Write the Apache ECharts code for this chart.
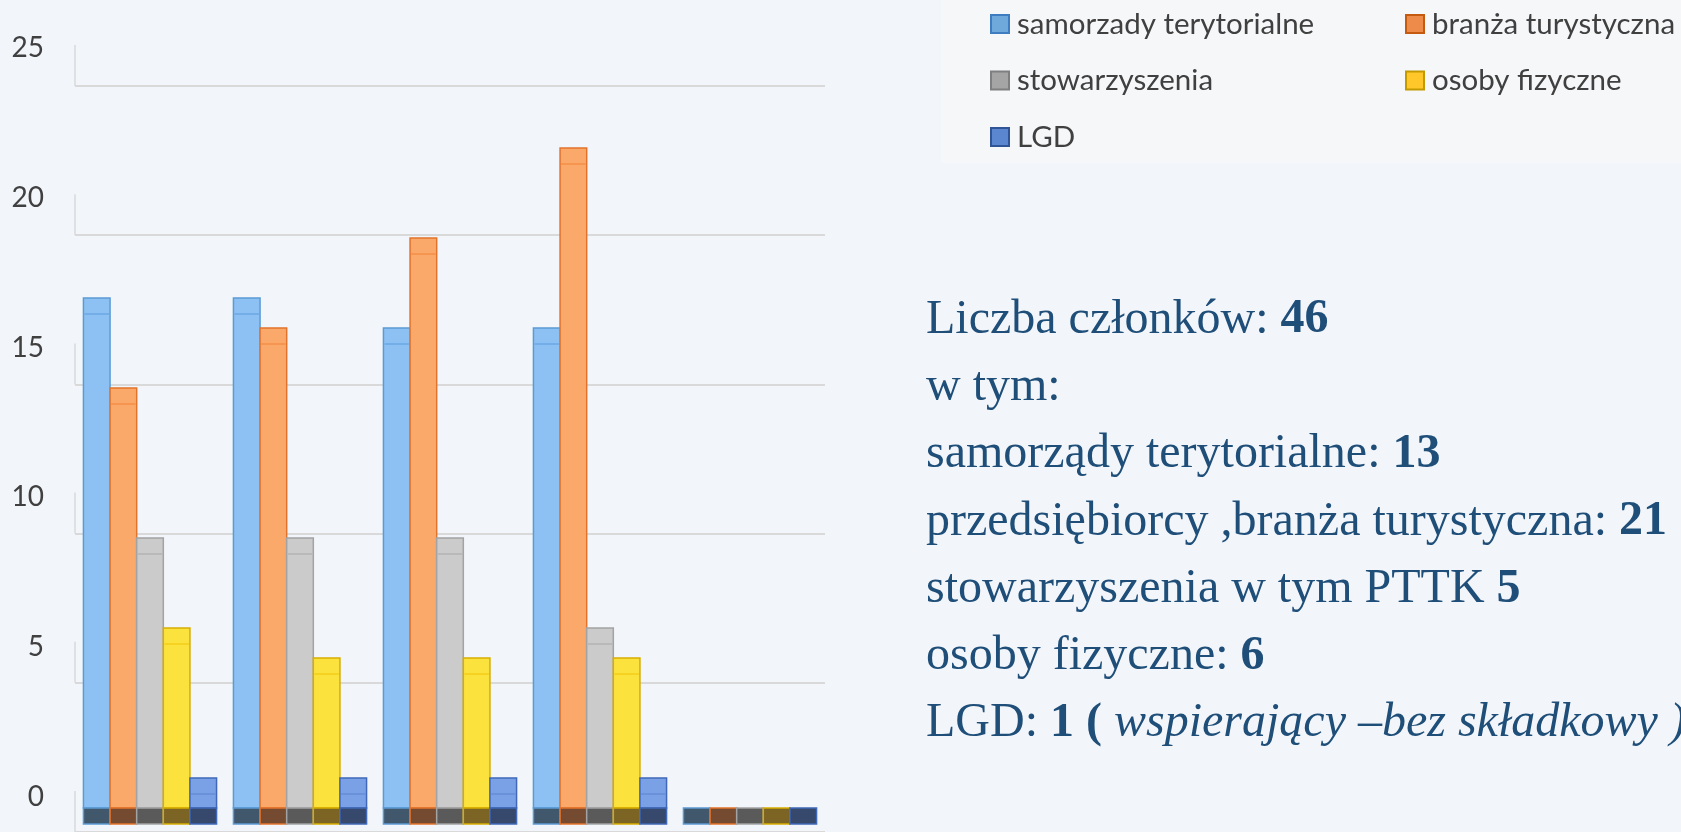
<!DOCTYPE html>
<html>
<head>
<meta charset="utf-8">
<script src="https://cdn.jsdelivr.net/npm/echarts@6/dist/echarts.min.js"></script>
<style>
html,body{margin:0;padding:0;background:#f2f6fa;}
#c{width:1681px;height:832px;}
</style>
</head>
<body>
<div id="c"></div>
<script>
// ---- data ----
var categories = ['1', '2', '3', '4', '5'];
var seriesNames = ['samorzady terytorialne', 'branża turystyczna', 'stowarzyszenia', 'osoby fizyczne', 'LGD'];
var samorzady = [17, 17, 16, 16, 0];
var branza = [14, 16, 19, 22, 0];
var stowarzyszenia = [9, 9, 9, 6, 0];
var osoby = [6, 5, 5, 5, 0];
var lgd = [1, 1, 1, 1, 0];
var yTicks = [0, 5, 10, 15, 20, 25];

var textLines = [
  [['n', 'Liczba członków: '], ['b', '46']],
  [['n', 'w tym:']],
  [['n', 'samorządy terytorialne: '], ['b', '13']],
  [['n', 'przedsiębiorcy ,branża turystyczna: '], ['b', '21']],
  [['n', 'stowarzyszenia w tym PTTK '], ['b', '5']],
  [['n', 'osoby fizyczne: '], ['b', '6']],
  [['n', 'LGD: '], ['b', '1 ('], ['i', ' wspierający –bez składkowy )']]
];

// ---- styles ----
var styles = [
  {fill: '#8ec1f3', border: '#5b9bd5', inner: '#74aee9', floor: '#41576b', icon: '#6fa9dc', iconBorder: '#3d7dc0'},
  {fill: '#fba96a', border: '#e2732b', inner: '#f6954f', floor: '#744b31', icon: '#ef8b4a', iconBorder: '#c55a11'},
  {fill: '#cbcbcb', border: '#a3a3a3', inner: '#b9b9b9', floor: '#5a5a5a', icon: '#a5a5a5', iconBorder: '#7f7f7f'},
  {fill: '#fce23d', border: '#d8ad00', inner: '#f5d320', floor: '#7b6424', icon: '#ffc72a', iconBorder: '#c49a00'},
  {fill: '#7aa1e6', border: '#3f68b8', inner: '#6a92da', floor: '#36486b', icon: '#5b87d0', iconBorder: '#2f5597'}
];
var allValues = [samorzady, branza, stowarzyszenia, osoby, lgd];

var chart = echarts.init(document.getElementById('c'));

function makeRender(si) {
  var st = styles[si];
  return function (params, api) {
    var idx = api.value(0), v = api.value(1);
    var base = api.coord([idx, 0]);
    var top = api.coord([idx, v]);
    var band = api.size([1, 0])[0];
    var bw = band * 0.1775;
    var x = base[0] - 2.5 * bw + si * bw;
    var children = [];
    if (v > 0) {
      children.push({
        type: 'rect',
        shape: {x: x, y: top[1], width: bw, height: base[1] - top[1]},
        style: {fill: st.fill, stroke: st.border, lineWidth: 1.5}
      });
      children.push({
        type: 'line',
        shape: {x1: x + 1, y1: top[1] + 16, x2: x + bw - 1, y2: top[1] + 16},
        style: {stroke: st.inner, lineWidth: 2}
      });
    }
    children.push({
      type: 'rect',
      shape: {x: x, y: base[1], width: bw, height: 16},
      style: {fill: st.floor, stroke: st.border, lineWidth: 1.5}
    });
    return {type: 'group', children: children};
  };
}

var series = allValues.map(function (vals, si) {
  return {
    type: 'custom',
    name: seriesNames[si],
    xAxisIndex: 0,
    yAxisIndex: 0,
    itemStyle: {color: styles[si].icon},
    renderItem: makeRender(si),
    data: vals.map(function (v, i) { return [i, v]; }),
    z: 5
  };
});

// wall segments at each tick on the left
series.push({
  type: 'custom',
  xAxisIndex: 2,
  yAxisIndex: 2,
  silent: true,
  renderItem: function (params, api) {
    var p = api.coord([0, api.value(1)]);
    return {
      type: 'line',
      shape: {x1: p[0], y1: p[1], x2: p[0], y2: p[1] - 41},
      style: {stroke: '#d9d9d9', lineWidth: 1.5}
    };
  },
  data: yTicks.map(function (t) { return [0, t]; }),
  z: 1
});

var fontSans = 'Lato, "Open Sans", sans-serif';

function legendData(list) {
  return list.map(function (si) {
    return {
      name: seriesNames[si],
      icon: 'rect',
      itemStyle: {color: styles[si].icon, borderColor: styles[si].iconBorder, borderWidth: 2}
    };
  });
}

var serif = '"Liberation Serif", "Times New Roman", serif';
var textColor = '#1f4e79';
var graphics = [{
  type: 'rect',
  shape: {x: 941, y: 0, width: 740, height: 163},
  style: {fill: '#f5f7f9'},
  z: -10
}];
textLines.forEach(function (parts, li) {
  graphics.push({
    type: 'text',
    left: 926,
    top: 296 + li * 67.3,
    style: {
      text: parts.map(function (p) { return '{' + p[0] + '|' + p[1] + '}'; }).join(''),
      fill: textColor,
      font: '48px ' + serif,
      rich: {
        n: {fontFamily: serif, fontSize: 48, fill: textColor},
        b: {fontFamily: serif, fontSize: 48, fontWeight: 'bold', fill: textColor},
        i: {fontFamily: serif, fontSize: 48, fontStyle: 'italic', fill: textColor}
      }
    }
  });
});

chart.setOption({
  backgroundColor: '#f2f6fa',
  animation: false,
  grid: [
    {left: 75, right: 856, top: 58, bottom: 24},
    {left: 75, right: 856, top: 48, bottom: 35},
    {left: 75, right: 856, top: 86, bottom: -5}
  ],
  xAxis: [
    {type: 'category', gridIndex: 0, data: categories, show: false},
    {type: 'value', gridIndex: 1, min: 0, max: 1, show: false},
    {type: 'value', gridIndex: 2, min: 0, max: 1, show: false}
  ],
  yAxis: [
    {type: 'value', gridIndex: 0, min: 0, max: 25, show: false},
    {
      type: 'value', gridIndex: 1, min: 0, max: 25, interval: 5,
      axisLine: {show: false}, axisTick: {show: false}, splitLine: {show: false},
      axisLabel: {fontSize: 28, color: '#404040', margin: 31, fontFamily: fontSans}
    },
    {
      type: 'value', gridIndex: 2, min: 0, max: 25, interval: 5,
      axisLine: {show: false}, axisTick: {show: false}, axisLabel: {show: false},
      splitLine: {show: true, lineStyle: {color: '#d9d9d9', width: 2}}
    }
  ],
  legend: [
    {
      orient: 'vertical', left: 990, top: 9, padding: 0,
      itemWidth: 18, itemHeight: 18, itemGap: 26.5,
      data: legendData([0, 2, 4]),
      textStyle: {fontSize: 29.5, color: '#404040', fontFamily: fontSans, lineHeight: 30, padding: [0, 0, 0, 3]}
    },
    {
      orient: 'vertical', left: 1405, top: 9, padding: 0,
      itemWidth: 18, itemHeight: 18, itemGap: 26.5,
      data: legendData([1, 3]),
      textStyle: {fontSize: 29.5, color: '#404040', fontFamily: fontSans, lineHeight: 30, padding: [0, 0, 0, 3]}
    }
  ],
  graphic: graphics,
  series: series
});
</script>
</body>
</html>
